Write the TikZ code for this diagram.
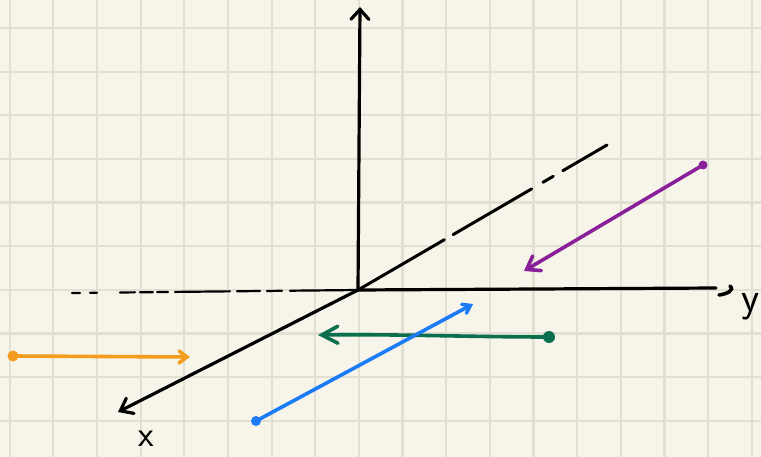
\documentclass[tikz,border=0pt]{standalone}
\usetikzlibrary{arrows.meta}
\definecolor{paper}{HTML}{F7F5E9}
\definecolor{gridc}{HTML}{E1E0D2}
\definecolor{ora}{HTML}{F39C1E}
\definecolor{grn}{HTML}{0A6E4F}
\definecolor{blu}{HTML}{1B7CF5}
\definecolor{pur}{HTML}{8A1F9A}
\tikzset{
  gridline/.style={draw=gridc, line width=2.2pt},
  axis/.style={draw=black, line width=3.2pt, line cap=round},
  barb/.style={-{Straight Barb[length=11pt,width=17pt,line cap=round]}},
  vec/.style={line width=3.6pt, line cap=round},
  dot/.style={circle, inner sep=0pt, minimum size=#1},
  lbl/.style={inner sep=0pt, font=\fontsize{36}{36}\selectfont\sffamily}
}
\begin{document}
\begin{tikzpicture}[x=1pt,y=-1pt]
\useasboundingbox (0,0) rectangle (761,457);
\fill[paper] (0,0) rectangle (761,457);
% grid
\foreach \i in {0,...,17} { \draw[gridline] ({9.7+43.65*\i},0) -- ({9.7+43.65*\i},457); }
\foreach \j in {0,...,9} { \draw[gridline] (0,{28+43.65*\j}) -- (761,{28+43.65*\j}); }
% axis points
\coordinate (O) at (358,290);
\coordinate (Ztop) at (360,7);
\coordinate (Yend) at (716,288);
\coordinate (Xend) at (118,412);
\coordinate (Lx) at (72,293);
\coordinate (Bk) at (607,145);
% dashed hidden parts
\draw[line width=2.2pt, line cap=round, dash pattern=on 8pt off 10pt on 7pt off 23pt on 15pt off 5pt on 13pt off 4pt on 11pt off 7pt on 55pt off 7pt on 23pt off 7pt on 15pt off 8pt on 80pt] (Lx) -- (O);
\draw[line width=3pt, line cap=round, dash pattern=on 100pt off 10pt on 91pt off 13pt on 12pt off 11pt on 60pt] (O) -- (Bk);
% axes
\draw[axis, -{Straight Barb[length=10pt,width=18pt,line cap=round]}] (358,290) -- (Ztop);
\draw[axis] (O) -- (Yend);
\coordinate (H1) at (719,295);
\coordinate (H2) at (730,286);
\draw[axis, line width=3.6pt] (H1) .. controls (727,294) and (735,290) .. (H2);
\draw[axis, barb] (O) -- (Xend);
\node[lbl] (xl) at (146,439) {x};
\node[lbl, anchor=east, font=\fontsize{42}{42}\selectfont\sffamily] (yl) at (760,307) {y};
% orange
\node[dot=11pt, fill=ora] (o1) at (13,356) {};
\coordinate (o2) at (190,357);
\draw[vec, ora, -{Straight Barb[length=8pt,width=12pt,line cap=round]}] (o1.center) -- (o2);
% green
\node[dot=12pt, fill=grn] (g1) at (549,337) {};
\coordinate (g2) at (318,335);
\draw[vec, grn, -{Straight Barb[length=16pt,width=17pt,line cap=round]}] (g1.center) .. controls (470,337) and (400,334) .. (g2);
% blue
\node[dot=10pt, fill=blu] (b1) at (256,421) {};
\coordinate (b2) at (473,304);
\draw[vec, blu, -{Straight Barb[length=7pt,width=10pt,line cap=round]}] (b1.center) -- (b2);
% purple
\node[dot=9pt, fill=pur] (p1) at (703,165) {};
\coordinate (p2) at (524,271);
\draw[vec, pur, -{Straight Barb[length=12pt,width=17pt,line cap=round]}] (p1.center) -- (p2);
\end{tikzpicture}
\end{document}
